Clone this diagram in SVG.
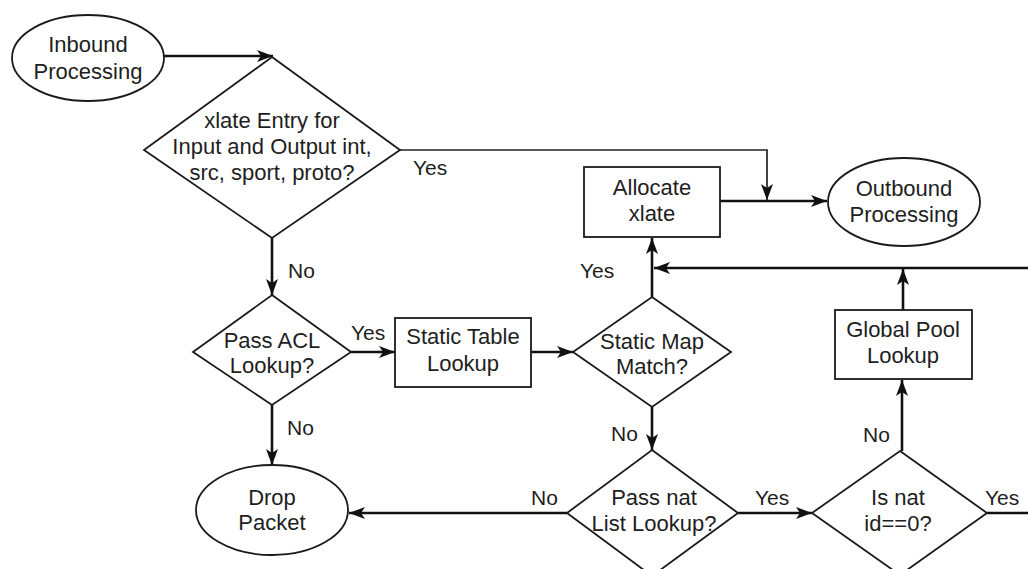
<svg xmlns="http://www.w3.org/2000/svg" width="1028" height="569" viewBox="0 0 1028 569">
  <style>
    .shape { fill: #ffffff; stroke: #1a1a1a; stroke-width: 1.8; }
    .conn { fill: none; stroke: #111111; stroke-width: 2.6; }
    .thin { fill: none; stroke: #222222; stroke-width: 1.7; }
    .txt { font-family: "Liberation Sans", Arial, sans-serif; font-size: 22px; fill: #1e1e1e; text-anchor: middle; }
    .lbl { font-family: "Liberation Sans", Arial, sans-serif; font-size: 21px; fill: #1e1e1e; }
  </style>
  <defs>
    <marker id="arrow" viewBox="0 0 16 12" markerWidth="16" markerHeight="12" refX="16" refY="6" orient="auto" markerUnits="userSpaceOnUse">
      <path d="M0,0 L16,6 L0,12 L4,6 z" fill="#111111"/>
    </marker>
  </defs>
  <rect width="1028" height="569" fill="#ffffff"/>

  <!-- connectors -->
  <g id="connectors">
    <line class="conn" x1="164" y1="56" x2="273" y2="56" marker-end="url(#arrow)"/>
    <polyline class="thin" points="400,150 767,150 767,200" marker-end="url(#arrow)"/>
    <line class="conn" x1="720" y1="201" x2="827" y2="201" marker-end="url(#arrow)"/>
    <line class="conn" x1="272" y1="238" x2="272" y2="295" marker-end="url(#arrow)"/>
    <line class="conn" x1="351" y1="352" x2="395" y2="352" marker-end="url(#arrow)"/>
    <line class="conn" x1="531" y1="352" x2="573" y2="352" marker-end="url(#arrow)"/>
    <line class="conn" x1="272" y1="405" x2="272" y2="465" marker-end="url(#arrow)"/>
    <line class="conn" x1="652" y1="297" x2="652" y2="238" marker-end="url(#arrow)"/>
    <line class="conn" x1="1030" y1="268" x2="654" y2="268" marker-end="url(#arrow)"/>
    <line class="conn" x1="903" y1="310" x2="903" y2="269" marker-end="url(#arrow)"/>
    <line class="conn" x1="652" y1="407" x2="652" y2="450" marker-end="url(#arrow)"/>
    <line class="conn" x1="567" y1="513" x2="349" y2="513" marker-end="url(#arrow)"/>
    <line class="conn" x1="738" y1="513" x2="812" y2="513" marker-end="url(#arrow)"/>
    <line class="conn" x1="902" y1="451" x2="902" y2="380" marker-end="url(#arrow)"/>
    <line class="conn" x1="987" y1="513" x2="1030" y2="513"/>
  </g>

  <!-- branch labels -->
  <g id="labels">
    <text class="lbl" x="413" y="175">Yes</text>
    <text class="lbl" x="288" y="278">No</text>
    <text class="lbl" x="351" y="340">Yes</text>
    <text class="lbl" x="287" y="435">No</text>
    <text class="lbl" x="580" y="278">Yes</text>
    <text class="lbl" x="611" y="441">No</text>
    <text class="lbl" x="531" y="505">No</text>
    <text class="lbl" x="755" y="505">Yes</text>
    <text class="lbl" x="863" y="442">No</text>
    <text class="lbl" x="985" y="505">Yes</text>
  </g>

  <g id="inbound">
    <ellipse class="shape" cx="88" cy="58" rx="76" ry="43"/>
    <text class="txt" x="88" y="52">Inbound</text>
    <text class="txt" x="88" y="79">Processing</text>
  </g>

  <g id="xlate-entry">
    <polygon class="shape" points="272,57 400,150 272,238 144,150"/>
    <text class="txt" x="272" y="128">xlate Entry for</text>
    <text class="txt" x="272" y="154">Input and Output int,</text>
    <text class="txt" x="272" y="180">src, sport, proto?</text>
  </g>

  <g id="allocate-xlate">
    <rect class="shape" x="584" y="167" width="136" height="70"/>
    <text class="txt" x="652" y="195">Allocate</text>
    <text class="txt" x="652" y="221">xlate</text>
  </g>

  <g id="outbound">
    <ellipse class="shape" cx="904" cy="202" rx="76" ry="44"/>
    <text class="txt" x="904" y="196">Outbound</text>
    <text class="txt" x="904" y="222">Processing</text>
  </g>

  <g id="pass-acl">
    <polygon class="shape" points="272,295 351,352 272,405 193,352"/>
    <text class="txt" x="272" y="348">Pass ACL</text>
    <text class="txt" x="272" y="373">Lookup?</text>
  </g>

  <g id="static-table">
    <rect class="shape" x="395" y="318" width="136" height="69"/>
    <text class="txt" x="463" y="344">Static Table</text>
    <text class="txt" x="463" y="371">Lookup</text>
  </g>

  <g id="static-map">
    <polygon class="shape" points="652,297 731,352 652,407 573,352"/>
    <text class="txt" x="652" y="349">Static Map</text>
    <text class="txt" x="652" y="374">Match?</text>
  </g>

  <g id="global-pool">
    <rect class="shape" x="835" y="310" width="137" height="69"/>
    <text class="txt" x="903" y="337">Global Pool</text>
    <text class="txt" x="903" y="363">Lookup</text>
  </g>

  <g id="drop-packet">
    <ellipse class="shape" cx="272" cy="510" rx="76" ry="45"/>
    <text class="txt" x="272" y="505">Drop</text>
    <text class="txt" x="272" y="530">Packet</text>
  </g>

  <g id="pass-nat">
    <polygon class="shape" points="652,450 738,513 652,576 567,513"/>
    <text class="txt" x="654" y="505">Pass nat</text>
    <text class="txt" x="654" y="531">List Lookup?</text>
  </g>

  <g id="is-nat">
    <polygon class="shape" points="900,451 987,513 900,575 812,513"/>
    <text class="txt" x="898" y="505">Is nat</text>
    <text class="txt" x="898" y="531">id==0?</text>
  </g>
</svg>
